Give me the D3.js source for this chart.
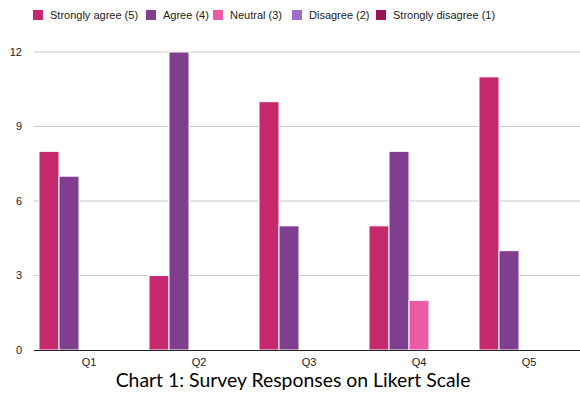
<!DOCTYPE html>
<html>
<head>
<meta charset="utf-8">
<script src="https://cdn.jsdelivr.net/npm/d3@7"></script>
<style>
  body { margin: 0; background: #fff; }
</style>
</head>
<body>
<svg id="chart" width="580" height="396"></svg>
<script>
// data
const questions = ["Q1", "Q2", "Q3", "Q4", "Q5"];
const seriesNames = ["Strongly agree (5)", "Agree (4)", "Neutral (3)", "Disagree (2)", "Strongly disagree (1)"];
const stronglyAgree = [8, 3, 10, 5, 11];
const agree = [7, 12, 5, 8, 4];
const neutral = [0, 0, 0, 2, 0];
const disagree = [0, 0, 0, 0, 0];
const stronglyDisagree = [0, 0, 0, 0, 0];
const yTicks = [0, 3, 6, 9, 12];
const colors = ["#c7296f", "#7f3e8e", "#ec5ba6", "#9d6cc6", "#9a1457"];
const chartTitle = "Chart 1: Survey Responses on Likert Scale";

const values = [stronglyAgree, agree, neutral, disagree, stronglyDisagree];
const sansFont = "'Liberation Sans', Arial, Helvetica";

const margin = { top: 52, right: -4, bottom: 46, left: 34 };
const svg = d3.select("#chart");
const width = 580 - margin.left - margin.right;
const height = 396 - margin.top - margin.bottom;

const g = svg.append("g").attr("transform", `translate(${margin.left},${margin.top})`);

const x = d3.scaleBand().domain(questions).range([0, width]).paddingInner(0).paddingOuter(0);
const x1 = d3.scaleBand().domain(seriesNames).range([5, x.bandwidth() - 5]);
const y = d3.scaleLinear().domain([0, 12]).range([height, 0]);

// gridlines
g.append("g")
  .selectAll("line")
  .data(yTicks.filter((d) => d > 0))
  .enter()
  .append("line")
  .attr("x1", 0)
  .attr("x2", 580)
  .attr("y1", (d) => y(d))
  .attr("y2", (d) => y(d))
  .style("stroke", "#c8c8c8")
  .style("stroke-width", 1);

// y tick labels
g.append("g")
  .selectAll("text")
  .data(yTicks)
  .enter()
  .append("text")
  .attr("x", -12)
  .attr("y", (d) => y(d))
  .attr("dy", "0.35em")
  .attr("text-anchor", "end")
  .attr("font-family", sansFont)
  .style("font-size", "11px")
  .style("fill", "#222")
  .text((d) => d);

// bars
const groups = g.selectAll(".grp")
  .data(questions)
  .enter()
  .append("g")
  .attr("class", "grp")
  .attr("transform", (d) => `translate(${x(d)},0)`);

groups.selectAll("rect")
  .data((q, qi) => seriesNames.map((s, si) => ({ s: s, si: si, v: values[si][qi] })))
  .enter()
  .append("rect")
  .filter((d) => d.v > 0)
  .attr("x", (d) => x1(d.s))
  .attr("y", (d) => y(d.v))
  .attr("width", x1.bandwidth())
  .attr("height", (d) => y(0) - y(d.v))
  .style("fill", (d) => colors[d.si])
  .style("stroke", "#fff")
  .style("stroke-width", 1);

// x axis baseline
g.append("line")
  .attr("x1", 0)
  .attr("x2", 580)
  .attr("y1", y(0) + 0.5)
  .attr("y2", y(0) + 0.5)
  .style("stroke", "#222")
  .style("stroke-width", 1.2);

// x labels
g.append("g")
  .selectAll("text")
  .data(questions)
  .enter()
  .append("text")
  .attr("x", (d) => x(d) + x.bandwidth() / 2)
  .attr("y", height + 16)
  .attr("text-anchor", "middle")
  .attr("font-family", sansFont)
  .style("font-size", "11px")
  .style("fill", "#222")
  .text((d) => d);

// legend
const legendX = [33, 146, 213, 292, 376];
const legend = svg.append("g")
  .selectAll("g")
  .data(seriesNames)
  .enter()
  .append("g")
  .attr("transform", (d, i) => `translate(${legendX[i]},10)`);

legend.append("rect")
  .attr("width", 10)
  .attr("height", 10)
  .style("fill", (d, i) => colors[i]);

legend.append("text")
  .attr("x", 17)
  .attr("y", 5)
  .attr("dy", "0.35em")
  .attr("font-family", sansFont)
  .style("font-size", "11px")
  .style("fill", "#222")
  .text((d) => d);

// title
svg.append("text")
  .attr("x", 293)
  .attr("y", 387)
  .attr("text-anchor", "middle")
  .attr("font-family", "Lato, 'Open Sans', sans-serif")
  .style("font-size", "19.4px")
  .style("fill", "#000")
  .text(chartTitle);
</script>
</body>
</html>
